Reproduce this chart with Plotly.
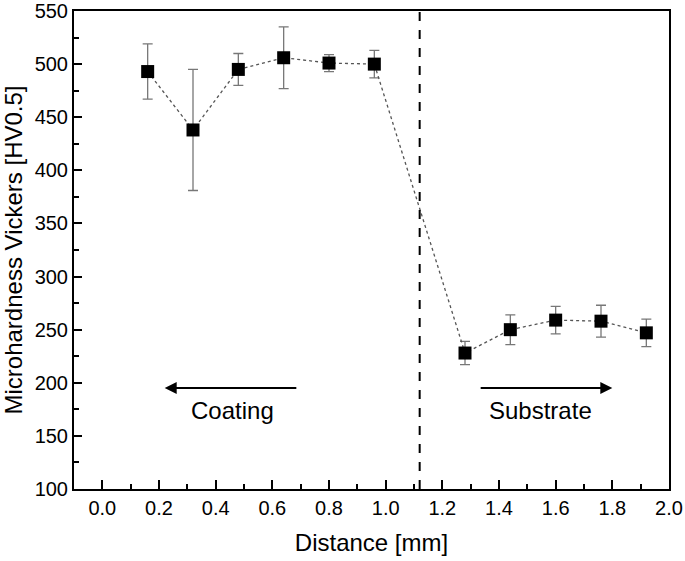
import plotly.graph_objects as go

distance = [0.16, 0.32, 0.48, 0.64, 0.80, 0.96, 1.28, 1.44, 1.60, 1.76, 1.92]
hardness = [493, 438, 495, 506, 501, 500, 228, 250, 259, 258, 247]
hardness_err = [26, 57, 15, 29, 8, 13, 11, 14, 13, 15, 13]
interface_x = 1.12

FONT = "Liberation Sans, Arial, sans-serif"

fig = go.Figure()
fig.add_trace(go.Scatter(
    x=distance, y=hardness,
    mode="lines+markers",
    line=dict(color="#555555", width=1.3, dash="3px,3px"),
    marker=dict(symbol="square", size=13, color="black"),
    error_y=dict(type="data", array=hardness_err, visible=True,
                 color="#777777", thickness=1.3, width=5),
    showlegend=False,
))

fig.add_shape(type="line", x0=interface_x, x1=interface_x, y0=0, y1=1,
              xref="x", yref="paper",
              line=dict(color="black", width=2, dash="dash"))

# arrows
fig.add_annotation(x=0.22, y=195, ax=0.69, ay=195, xref="x", yref="y",
                   axref="x", ayref="y", text="", showarrow=True,
                   arrowhead=2, arrowsize=1.2, arrowwidth=2, arrowcolor="black")
fig.add_annotation(x=1.80, y=195, ax=1.33, ay=195, xref="x", yref="y",
                   axref="x", ayref="y", text="", showarrow=True,
                   arrowhead=2, arrowsize=1.2, arrowwidth=2, arrowcolor="black")
fig.add_annotation(x=0.46, y=174, xref="x", yref="y", text="Coating",
                   showarrow=False, font=dict(family=FONT, size=24, color="black"))
fig.add_annotation(x=1.545, y=174, xref="x", yref="y", text="Substrate",
                   showarrow=False, font=dict(family=FONT, size=24, color="black"))

axis_common = dict(
    showline=True, linecolor="black", linewidth=2, mirror=True,
    ticks="inside", tickcolor="black", tickwidth=1.5,
    showgrid=False, zeroline=False, automargin=False,
    tickfont=dict(family=FONT, size=20, color="black"),
)

fig.update_xaxes(
    range=[-0.1, 2.0], dtick=0.2, tick0=0, ticklen=9, tickformat=".1f",
    minor=dict(dtick=0.1, ticks="inside", ticklen=5, tickcolor="black", tickwidth=1.5),
    title=dict(text="Distance [mm]", font=dict(family=FONT, size=24, color="black"), standoff=16),
    **axis_common,
)
fig.update_yaxes(
    range=[100, 550], dtick=50, ticklen=8,
    minor=dict(dtick=25, ticks="inside", ticklen=5, tickcolor="black", tickwidth=1.5),
    title=dict(text="Microhardness Vickers [HV0.5]", font=dict(family=FONT, size=24, color="black"), standoff=10),
    **axis_common,
)

fig.update_layout(
    width=685, height=561,
    margin=dict(l=74, r=16, t=11, b=72, autoexpand=False),
    plot_bgcolor="white", paper_bgcolor="white",
)

fig.write_html("out.html", config={"displayModeBar": False},
               post_script="document.body.style.margin='0';")
